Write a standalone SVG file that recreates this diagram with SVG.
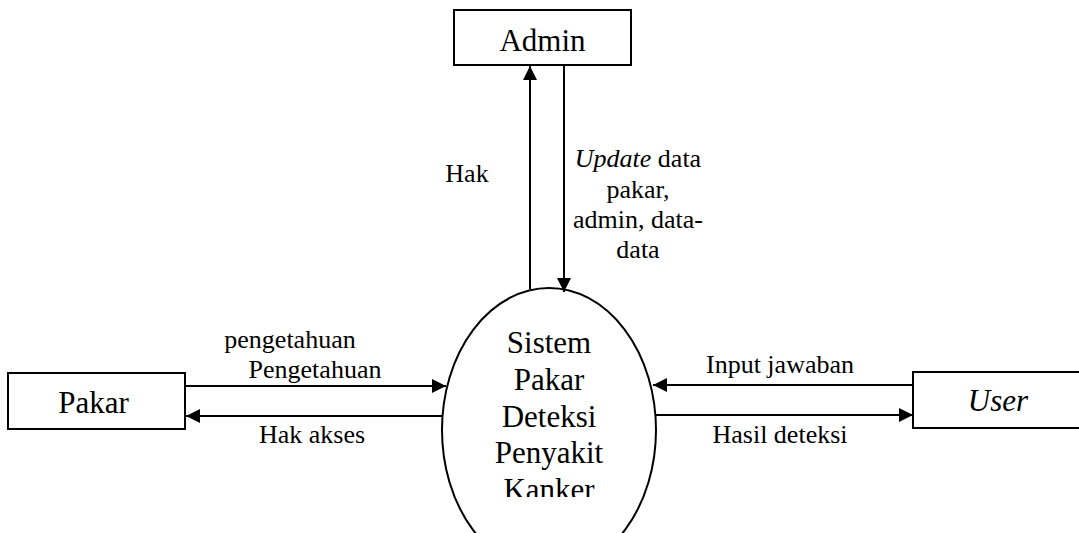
<svg xmlns="http://www.w3.org/2000/svg" width="1079" height="533" viewBox="0 0 1079 533">
  <style>
    .box { fill: #fff; stroke: #000; stroke-width: 2; }
    .line { fill: none; stroke: #000; stroke-width: 2; }
    text { fill: #000; text-anchor: middle; }
    .big { font-size: 31px; }
    .lbl { font-size: 26px; }
  </style>
  <defs>
    <marker id="arrow" markerUnits="userSpaceOnUse" markerWidth="14" markerHeight="14" viewBox="0 0 14 14" refX="14" refY="7" orient="auto">
      <path d="M0,0 L14,7 L0,14 Z" fill="#000"/>
    </marker>
    <clipPath id="clipText">
      <rect x="400" y="280" width="300" height="217"/>
    </clipPath>
  </defs>

  <g font-family="'Liberation Serif', 'Times New Roman', 'DejaVu Serif', serif">
  <g id="connectors">
    <line class="line" x1="530" y1="289" x2="530" y2="66" marker-end="url(#arrow)"/>
    <line class="line" x1="564" y1="65" x2="564" y2="292" marker-end="url(#arrow)"/>
    <line class="line" x1="185" y1="386" x2="446" y2="386" marker-end="url(#arrow)"/>
    <line class="line" x1="443" y1="416" x2="186" y2="416" marker-end="url(#arrow)"/>
    <line class="line" x1="913" y1="385" x2="653" y2="385" marker-end="url(#arrow)"/>
    <line class="line" x1="656" y1="415" x2="913" y2="415" marker-end="url(#arrow)"/>
    <text class="lbl" x="467" y="182">Hak</text>
    <text class="lbl" x="638" y="167"><tspan font-style="italic">Update</tspan> data</text>
    <text class="lbl" x="638" y="198">pakar,</text>
    <text class="lbl" x="638" y="228">admin, data-</text>
    <text class="lbl" x="638" y="258">data</text>
    <text class="lbl" x="290" y="348">pengetahuan</text>
    <text class="lbl" x="315" y="378">Pengetahuan</text>
    <text class="lbl" x="312" y="443">Hak akses</text>
    <text class="lbl" x="780" y="373">Input jawaban</text>
    <text class="lbl" x="780" y="443">Hasil deteksi</text>
  </g>

  <g id="admin">
    <rect class="box" x="454" y="10" width="177" height="55"/>
    <text class="big" x="542.5" y="51">Admin</text>
  </g>

  <g id="sistem">
    <ellipse class="line" cx="549" cy="430" rx="107" ry="142"/>
    <g clip-path="url(#clipText)">
      <text class="big" x="549" y="353">Sistem</text>
      <text class="big" x="549" y="390">Pakar</text>
      <text class="big" x="549" y="427">Deteksi</text>
      <text class="big" x="549" y="463">Penyakit</text>
      <text class="big" x="549" y="500">Kanker</text>
    </g>
  </g>

  <g id="pakar">
    <rect class="box" x="8" y="373" width="177" height="56"/>
    <text class="big" x="93.5" y="413">Pakar</text>
  </g>

  <g id="user">
    <rect class="box" x="913" y="372" width="180" height="56"/>
    <text class="big" x="998" y="411" font-style="italic">User</text>
  </g>
  </g>
</svg>
